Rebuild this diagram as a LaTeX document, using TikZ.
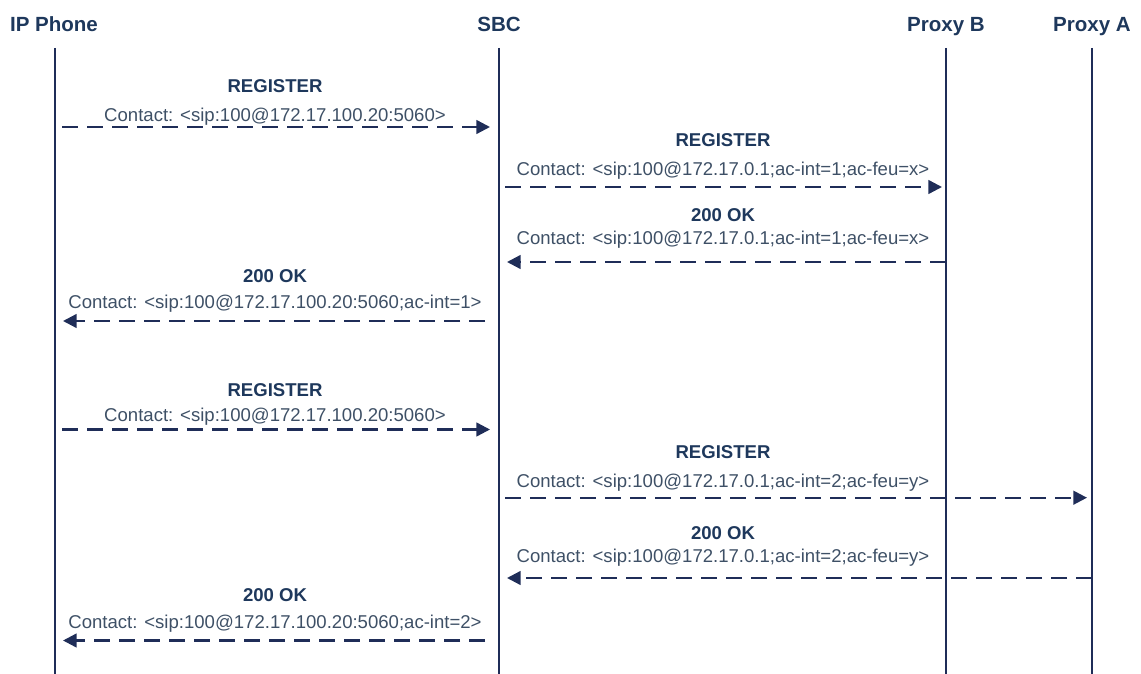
\documentclass[tikz,border=0pt]{standalone}
\usepackage{fontspec}
\setmainfont{Liberation Sans}
\usepackage{tikz}
\usetikzlibrary{arrows.meta, calc}
\definecolor{linenavy}{RGB}{31,45,88}
\definecolor{labelgray}{RGB}{62,80,102}
\definecolor{headnavy}{RGB}{30,56,92}
\tikzset{
    lifeline/.style={draw=linenavy, line width=1.2pt},
    msg/.style={draw=linenavy, line width=1.7pt, dash pattern=on 0.4cm off 0.225cm,
        -{Triangle[length=0.34cm, width=0.34cm]}},
    party/.style={anchor=base, text=headnavy, font=\fontsize{14.6}{17}\selectfont\bfseries},
    method/.style={anchor=base, text=headnavy, font=\fontsize{13.2}{15}\selectfont\bfseries},
    contact/.style={anchor=base, text=labelgray, font=\fontsize{13.2}{15}\selectfont}
}

\begin{document}
\begin{tikzpicture}[x=0.025cm, y=-0.025cm]
    \useasboundingbox (0,0) rectangle (1141,674);

    % ---------------- PARTIES & LIFELINES ---------------- %
    \node[party] (phone) at (54,31.7) {IP Phone};
    \node[party] (sbc)   at (499,31.7) {SBC};
    \node[party] (proxyb) at (946,31.7) {Proxy B};
    \node[party] (proxya) at (1092,31.7) {Proxy A};

    \coordinate (phonetop) at (55,48);    \coordinate (phonebot) at (55,674);
    \coordinate (sbctop) at (499,48);     \coordinate (sbcbot) at (499,674);
    \coordinate (proxybtop) at (946,48);  \coordinate (proxybbot) at (946,674);
    \coordinate (proxyatop) at (1092,48); \coordinate (proxyabot) at (1092,674);

    \draw[lifeline] (phonetop) -- (phonebot);
    \draw[lifeline] (sbctop) -- (sbcbot);
    \draw[lifeline] (proxybtop) -- (proxybbot);
    \draw[lifeline] (proxyatop) -- (proxyabot);

    % ---------------- FIRST REGISTRATION (PROXY B) ---------------- %
    % IP Phone -> SBC
    \coordinate (reg1s) at (62,127);  \coordinate (reg1e) at (490,127);
    \draw[msg] (reg1s) -- (reg1e);
    \node[method] (reg1m) at (275,93) {REGISTER};
    \node[contact] (reg1c) at (275,121.5) {Contact: <sip:100@172.17.100.20:5060>};

    % SBC -> Proxy B
    \coordinate (reg2s) at (505,187);  \coordinate (reg2e) at (942,187);
    \draw[msg] (reg2s) -- (reg2e);
    \node[method] (reg2m) at (723,147) {REGISTER};
    \node[contact] (reg2c) at (723,176) {Contact: <sip:100@172.17.0.1;ac-int=1;ac-feu=x>};

    % Proxy B -> SBC
    \coordinate (ok1s) at (946,262);  \coordinate (ok1e) at (507,262);
    \draw[msg] (ok1s) -- (ok1e);
    \node[method] (ok1m) at (723,221.5) {200 OK};
    \node[contact] (ok1c) at (723,245) {Contact: <sip:100@172.17.0.1;ac-int=1;ac-feu=x>};

    % SBC -> IP Phone
    \coordinate (ok2s) at (485,321);  \coordinate (ok2e) at (63,321);
    \draw[msg] (ok2s) -- (ok2e);
    \node[method] (ok2m) at (275,282.7) {200 OK};
    \node[contact] (ok2c) at (275,309) {Contact: <sip:100@172.17.100.20:5060;ac-int=1>};

    % ---------------- SECOND REGISTRATION (PROXY A) ---------------- %
    % IP Phone -> SBC
    \coordinate (reg3s) at (62,429.5);  \coordinate (reg3e) at (490,429.5);
    \draw[msg] (reg3s) -- (reg3e);
    \node[method] (reg3m) at (275,396.7) {REGISTER};
    \node[contact] (reg3c) at (275,421.5) {Contact: <sip:100@172.17.100.20:5060>};

    % SBC -> Proxy A
    \coordinate (reg4s) at (505,497.7);  \coordinate (reg4e) at (1087,497.7);
    \draw[msg] (reg4s) -- (reg4e);
    \node[method] (reg4m) at (723,458) {REGISTER};
    \node[contact] (reg4c) at (723,487) {Contact: <sip:100@172.17.0.1;ac-int=2;ac-feu=y>};

    % Proxy A -> SBC
    \coordinate (ok3s) at (1092,578);  \coordinate (ok3e) at (507,578);
    \draw[msg] (ok3s) -- (ok3e);
    \node[method] (ok3m) at (723,539) {200 OK};
    \node[contact] (ok3c) at (723,562) {Contact: <sip:100@172.17.0.1;ac-int=2;ac-feu=y>};

    % SBC -> IP Phone
    \coordinate (ok4s) at (485,640.5);  \coordinate (ok4e) at (63,640.5);
    \draw[msg] (ok4s) -- (ok4e);
    \node[method] (ok4m) at (275,601.7) {200 OK};
    \node[contact] (ok4c) at (275,628) {Contact: <sip:100@172.17.100.20:5060;ac-int=2>};
\end{tikzpicture}
\end{document}
